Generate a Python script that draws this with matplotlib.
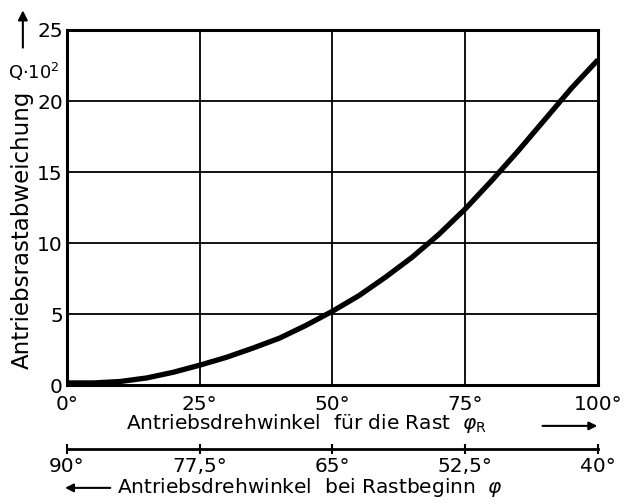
import matplotlib
matplotlib.use('Agg')
import matplotlib.pyplot as plt

# Antriebsdrehwinkel fuer die Rast (Grad) und Rastabweichung Q*10^2
phi_r = [0, 5, 10, 15, 20, 25, 30, 35, 40, 45, 50, 55, 60, 65, 70, 75, 80, 85, 90, 95, 100]
q = [0.15, 0.15, 0.25, 0.5, 0.9, 1.4, 1.95, 2.6, 3.3, 4.2, 5.2, 6.3, 7.6, 9.0, 10.6,
     12.4, 14.4, 16.5, 18.7, 20.9, 22.9]

x_ticks = [0, 25, 50, 75, 100]
x_labels = ['0°', '25°', '50°', '75°', '100°']
y_ticks = [0, 5, 10, 15, 20, 25]
phi_ticks = [90, 77.5, 65, 52.5, 40]
phi_labels = ['90°', '77,5°', '65°', '52,5°', '40°']

plt.rcParams['font.family'] = ['DejaVu Sans']
fig = plt.figure(figsize=(6.35, 5.04), dpi=100)
ax = fig.add_axes([0.1055, 0.236, 0.8362, 0.7045])

ax.plot(phi_r, q, color='black', linewidth=3.8, solid_capstyle='butt')
ax.set_xlim(0, 100)
ax.set_ylim(0, 25)
ax.set_xticks(x_ticks)
ax.set_xticklabels(x_labels)
ax.set_yticks(y_ticks)
ax.grid(True, color='black', linewidth=1.3)
ax.tick_params(length=0, labelsize=14.5)
ax.tick_params(axis='x', pad=7)
ax.tick_params(axis='y', pad=3)
for s in ax.spines.values():
    s.set_linewidth(2.2)

# zweite Skala: Antriebsdrehwinkel bei Rastbeginn
sec = ax.secondary_xaxis(-0.18, functions=(lambda x: 90 - 0.5 * x, lambda p: 180 - 2 * p))
sec.set_xticks(phi_ticks)
sec.set_xticklabels(phi_labels)
sec.spines['bottom'].set_linewidth(2.0)
sec.tick_params(direction='inout', length=7, width=1.5, labelsize=14.5, pad=2)

# Achsenbeschriftungen
fig.text(0.035, 0.545, 'Antriebsrastabweichung', rotation=90, fontsize=16.5,
         ha='center', va='center')
fig.text(0.053, 0.857, r'Q$\cdot$10$^2$', fontsize=13, ha='center', va='center')
ax.annotate('', xy=(0.036, 0.985), xytext=(0.036, 0.9), xycoords='figure fraction',
            arrowprops=dict(arrowstyle='-|>', color='black', lw=1.5, mutation_scale=14))

fig.text(0.198, 0.16, r'Antriebsdrehwinkel  für die Rast  $\varphi_\mathrm{R}$', fontsize=14.5,
         ha='left', va='center')
ax.annotate('', xy=(0.945, 0.155), xytext=(0.85, 0.155), xycoords='figure fraction',
            arrowprops=dict(arrowstyle='-|>', color='black', lw=1.5, mutation_scale=12))

fig.text(0.185, 0.032, r'Antriebsdrehwinkel  bei Rastbeginn  $\varphi$', fontsize=14.5,
         ha='left', va='center')
ax.annotate('', xy=(0.098, 0.032), xytext=(0.178, 0.032), xycoords='figure fraction',
            arrowprops=dict(arrowstyle='-|>', color='black', lw=1.5, mutation_scale=12))

fig.savefig('out.png', dpi=100)
